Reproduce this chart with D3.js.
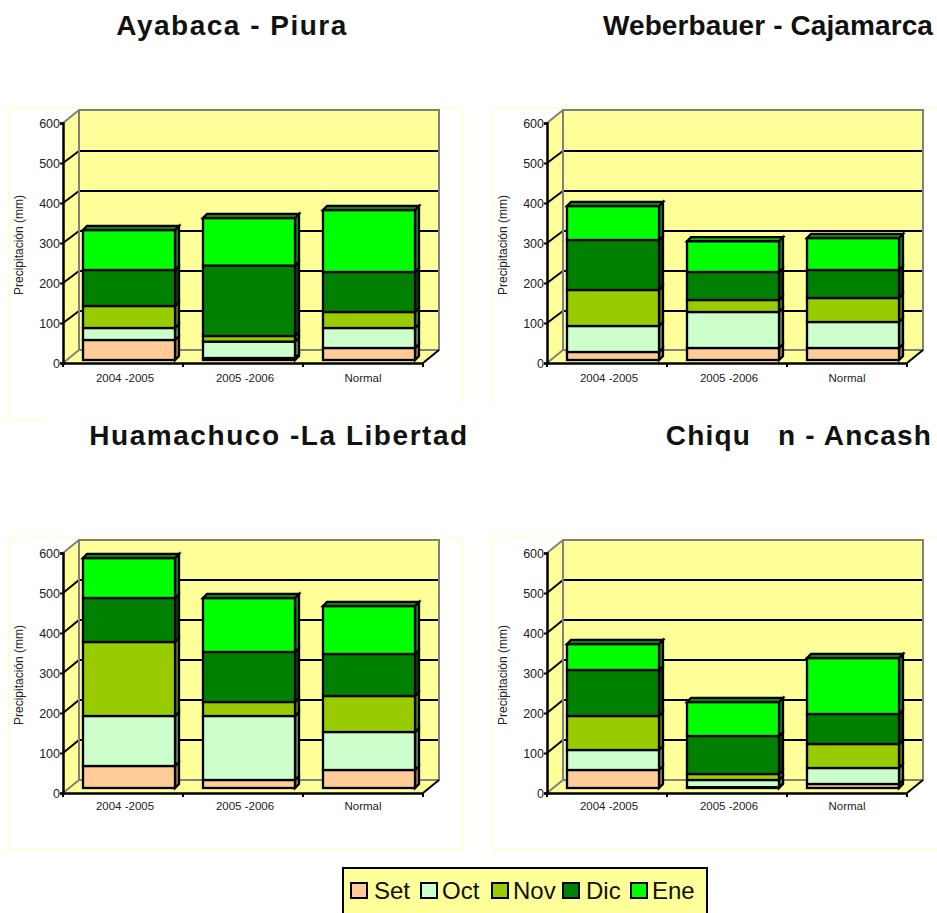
<!DOCTYPE html>
<html><head><meta charset="utf-8">
<script src="https://cdn.jsdelivr.net/npm/d3@7"></script>
<style>
html,body{margin:0;padding:0;background:#fff;overflow:hidden}
svg{display:block}
text{font-family:"Liberation Sans",Arial,sans-serif}
</style></head><body>
<svg id="c" width="937" height="913"></svg>
<script>
const categories=["2004 -2005","2005 -2006","Normal"];
const months=["Set","Oct","Nov","Dic","Ene"];
const colors=["#FFCC99","#CCFFCC","#99CC00","#008000","#00FF00"];
const topColors=["#E0B080","#A8D8A8","#80A800","#006800","#10B010"];
const sideColors=["#A88060","#709070","#667F00","#005000","#109010"];
const yTicks=[0,100,200,300,400,500,600];
const titles=["Ayabaca - Piura","Weberbauer - Cajamarca","Huamachuco -La Libertad","Chiqu   n - Ancash"];
const ayabaca=[[50,30,55,90,100],[5,41,14,176,119],[30,50,40,100,155]];
const weberbauer=[[20,65,90,125,85],[30,90,30,70,77],[30,65,60,70,80]];
const huamachuco=[[55,125,185,110,100],[20,160,35,125,135],[45,95,90,105,120]];
const chiquian=[[45,50,85,115,65],[2,18,15,95,85],[10,40,60,75,140]];
const panelData=[ayabaca,weberbauer,huamachuco,chiquian];

const svg=d3.select("#c");
const frameColor="#FFFFCC", wall="#FFFF99";
const panels=[
 {ax:63,y0:363,bdy:3,pad:11,gdy:12,fx:9,fy:108,fr:463,fb:420,tx:232,ty:35,ls:1.5,fs:28},
 {ax:547,y0:363,bdy:3,pad:11,gdy:12,fx:493,fy:108,fr:960,fb:420,tx:768,ty:35,ls:0.1,fs:28},
 {ax:63,y0:793,bdy:5,pad:9,gdy:13,fx:9,fy:538,fr:463,fb:849,tx:279,ty:445,ls:1.55,fs:28},
 {ax:547,y0:793,bdy:5,pad:9,gdy:13,fx:493,fy:538,fr:960,fb:849,tx:799,ty:445,ls:1.2,fs:28}
];
const DX=16,DY=13,W=360,H=240;

panels.forEach((p,pi)=>{
 const g=svg.append("g");
 const data=panelData[pi];
 g.append("rect").attr("x",p.fx).attr("y",p.fy).attr("width",p.fr-p.fx).attr("height",p.fb-p.fy)
  .attr("fill","#fff").attr("stroke",frameColor).attr("stroke-width",1.5);
 const x=d3.scaleBand().domain(categories).range([p.ax,p.ax+W]).paddingInner(28/120).paddingOuter(14/120);
 const y=d3.scaleLinear().domain([0,600]).range([p.y0,p.y0-H]);
 const x0=p.ax,x1=p.ax+W,yb=p.y0,yt=p.y0-H;
 g.append("polygon").attr("points",[[x0,yb],[x0+DX,yb-DY],[x1+DX,yb-DY],[x1,yb]].join(" ")).attr("fill",wall);
 g.append("polygon").attr("points",[[x0,yb],[x0,yt],[x0+DX,yt-DY],[x0+DX,yb-DY]].join(" ")).attr("fill",wall);
 g.append("rect").attr("x",x0+DX).attr("y",yt-DY).attr("width",W).attr("height",H).attr("fill",wall);
 yTicks.filter(d=>d>0&&d<600).forEach(t=>{
  g.append("line").attr("x1",x0+DX).attr("x2",x1+DX).attr("y1",y(t)-p.gdy).attr("y2",y(t)-p.gdy).attr("stroke","#000").attr("stroke-width",2);
  g.append("line").attr("x1",x0).attr("x2",x0+DX).attr("y1",y(t)).attr("y2",y(t)-p.gdy).attr("stroke","#000").attr("stroke-width",2);
 });
 g.append("path").attr("d",`M${x0},${yb}L${x0+DX},${yb-DY}L${x0+DX},${yt-DY}L${x1+DX},${yt-DY}L${x1+DX},${yb-DY}L${x0+DX},${yb-DY}M${x0},${yt}L${x0+DX},${yt-DY}`)
  .attr("fill","none").attr("stroke","#808080").attr("stroke-width",2);
 g.append("line").attr("x1",x1).attr("y1",yb).attr("x2",x1+DX).attr("y2",yb-DY).attr("stroke","#000").attr("stroke-width",2);
 const bdx=6,dpx=4,dpy=4;
 categories.forEach((c,ci)=>{
  let sum=0;
  const bx=x(c)+bdx,bw=x.bandwidth();
  const bg=g.append("g").attr("stroke","#000").attr("stroke-width",2.3).attr("stroke-linejoin","miter");
  const vals=data[ci];
  vals.forEach((v,i)=>{
   const top=y(sum+v)-p.bdy,bot=y(sum)-p.bdy;
   bg.append("polygon").attr("points",[[bx+bw,top],[bx+bw+dpx,top-dpy],[bx+bw+dpx,bot-dpy],[bx+bw,bot]].join(" ")).attr("fill",sideColors[i]);
   bg.append("rect").attr("x",bx).attr("y",top).attr("width",bw).attr("height",bot-top).attr("fill",colors[i]);
   if(i===vals.length-1){
    bg.append("polygon").attr("points",[[bx,top],[bx+dpx,top-dpy],[bx+bw+dpx,top-dpy],[bx+bw,top]].join(" ")).attr("fill",topColors[i]);
   }
   sum+=v;
  });
 });
 const ya=g.append("g").attr("transform",`translate(${x0},0)`).call(d3.axisLeft(y).tickValues(yTicks).tickSize(3).tickPadding(0).tickFormat(d3.format("d")));
 ya.selectAll("path").attr("stroke","#000").attr("stroke-width",2.5);
 ya.selectAll("line").attr("stroke","#000").attr("stroke-width",2);
 ya.selectAll("text").attr("font-size",12.5).attr("fill","#222").attr("font-family",'"Liberation Sans"');
 const xa=g.append("g").attr("transform",`translate(0,${yb})`).call(d3.axisBottom(x).tickSize(0).tickPadding(p.pad));
 xa.selectAll("path").attr("stroke","#000").attr("stroke-width",2.5);
 xa.selectAll("text").attr("font-size",11.5).attr("fill","#222").attr("font-family",'"Liberation Sans"').attr("dx",d=>d==="Normal"?0:2);
 [0,1,2,3].forEach(i=>{
  const tx=x0+x.step()*i;
  g.append("line").attr("x1",tx).attr("x2",tx).attr("y1",yb).attr("y2",yb+4).attr("stroke","#000").attr("stroke-width",2);
 });
 g.append("text").attr("transform",`translate(${x0-40},${yb-118}) rotate(-90)`).attr("text-anchor","middle")
  .attr("font-size",12).attr("fill","#222").text("Precipitación (mm)");
});
svg.append("rect").attr("x",46).attr("y",404).attr("width",891).attr("height",60).attr("fill","#fff");
svg.append("rect").attr("x",0).attr("y",421).attr("width",46).attr("height",43).attr("fill","#fff");
titles.forEach((t,i)=>{
 svg.append("text").attr("x",panels[i].tx).attr("y",panels[i].ty).attr("text-anchor","middle")
  .attr("font-size",panels[i].fs).attr("font-weight","bold").attr("fill","#111").attr("letter-spacing",panels[i].ls)
  .style("white-space","pre").text(t);
});
svg.append("rect").attr("x",343).attr("y",868).attr("width",364).attr("height",50).attr("fill",wall).attr("stroke","#000").attr("stroke-width",2);
const lsx=[351,421,492,563,631], ltx=[374,442,513,586,652];
months.forEach((m,i)=>{
 svg.append("rect").attr("x",lsx[i]).attr("y",883).attr("width",16).attr("height",15).attr("fill",colors[i]).attr("stroke","#000").attr("stroke-width",2);
 svg.append("text").attr("x",ltx[i]).attr("y",899).attr("font-size",24).attr("fill","#111").text(m);
});
</script>
</body></html>
